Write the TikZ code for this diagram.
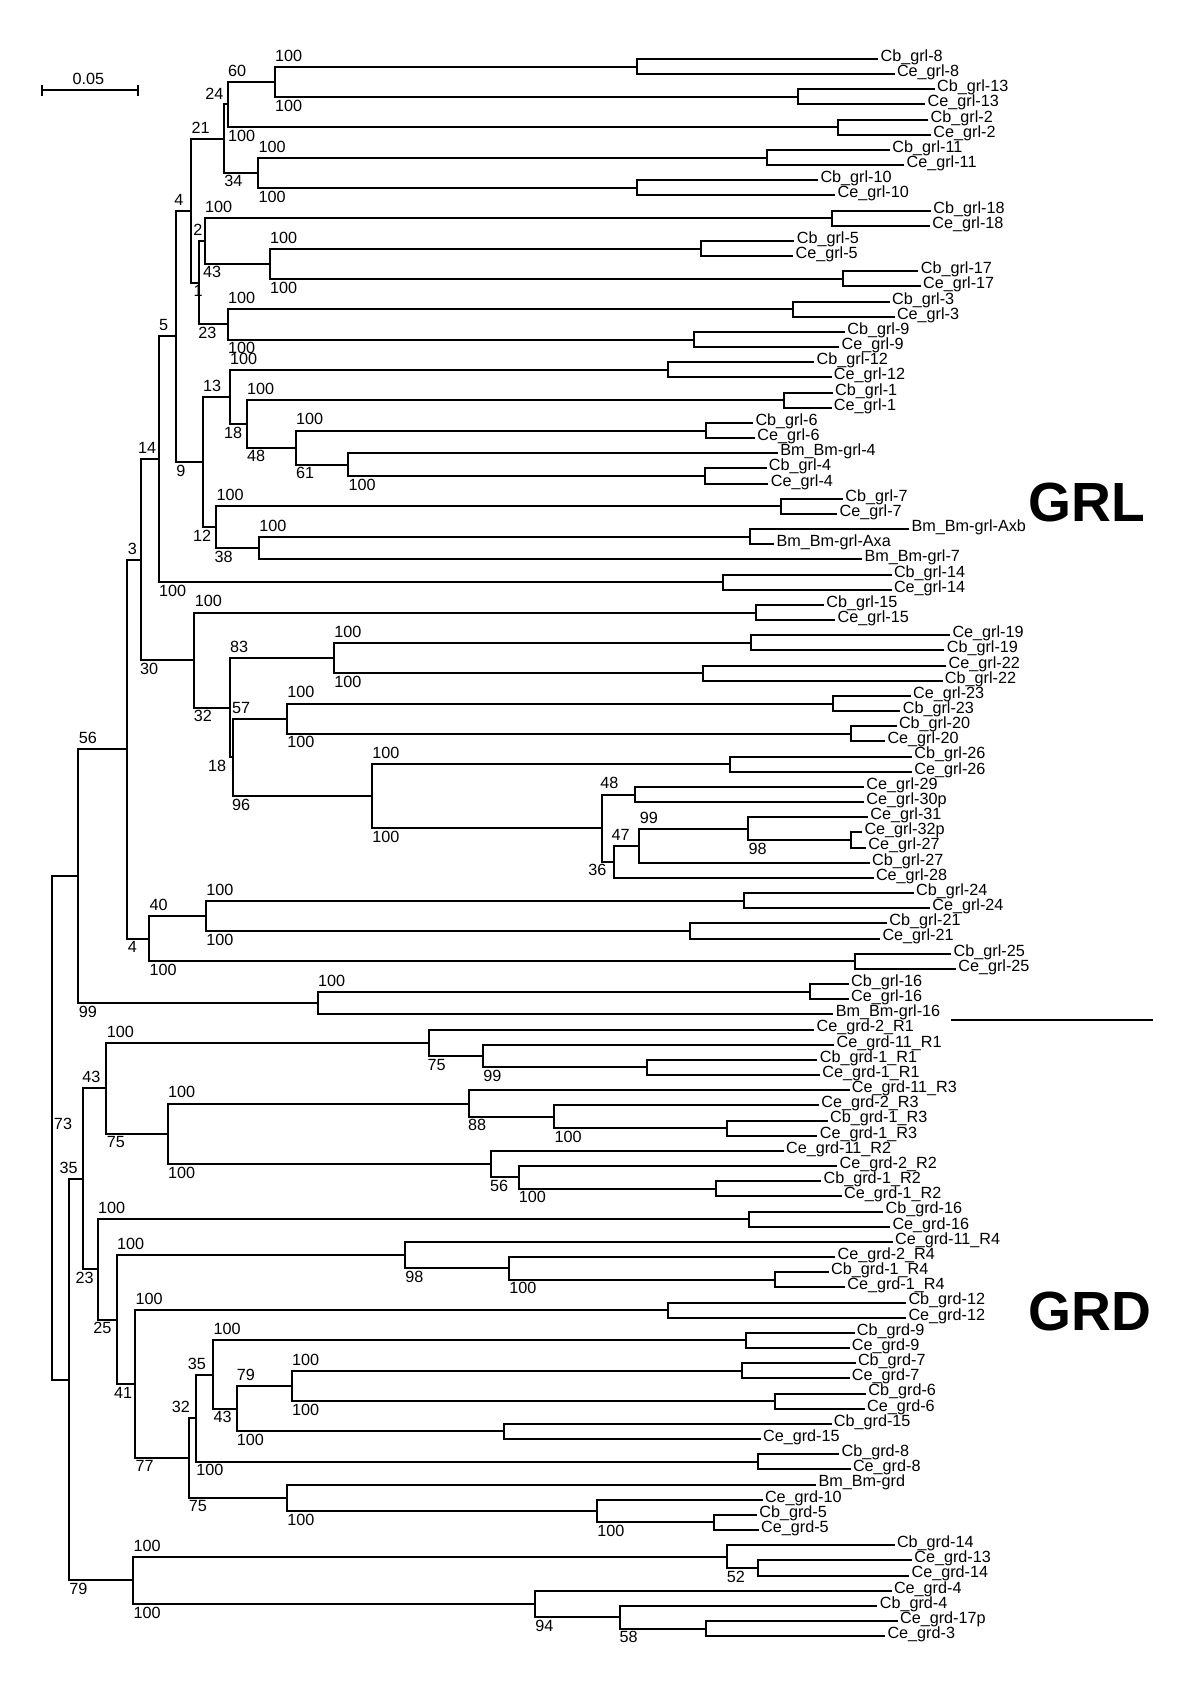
\documentclass[tikz,border=0pt]{standalone}
\usepackage{fontspec}
\setmainfont{Liberation Sans}
\usetikzlibrary{calc}
\tikzset{
  br/.style={line width=1pt},
  lbl/.style={font=\fontsize{8.1}{9.5}\selectfont},
  leaf/.style={lbl, anchor=base west, inner xsep=1pt, inner ysep=0pt, yshift=-1.2pt},
  bu/.style={lbl, anchor=south west, inner xsep=0pt, inner ysep=2.5pt},
  bd/.style={lbl, anchor=north west, inner xsep=0pt, inner ysep=1.2pt},
  clade/.style={font=\bfseries\fontsize{27.6}{30}\selectfont, anchor=base west, inner sep=0pt}
}
\begin{document}
\begin{tikzpicture}[x=0.5pt,y=-0.5pt]
\useasboundingbox (0,0) rectangle (1200,1681);
\foreach \i/\x/\txt in {1/878.2/Cb\_grl-8, 2/894.6/Ce\_grl-8, 3/934.8/Cb\_grl-13, 4/925.3/Ce\_grl-13,
  5/928.3/Cb\_grl-2, 6/931/Ce\_grl-2, 7/890/Cb\_grl-11, 8/904.2/Ce\_grl-11, 9/818.1/Cb\_grl-10,
  10/835.3/Ce\_grl-10, 11/931/Cb\_grl-18, 12/929.9/Ce\_grl-18, 13/794.4/Cb\_grl-5, 14/793.2/Ce\_grl-5,
  15/918.4/Cb\_grl-17, 16/920.7/Ce\_grl-17, 17/889.7/Cb\_grl-3, 18/894.6/Ce\_grl-3, 19/844.9/Cb\_grl-9,
  20/839.2/Ce\_grl-9, 21/814.3/Cb\_grl-12, 22/831.5/Ce\_grl-12, 23/832.7/Cb\_grl-1, 24/831.5/Ce\_grl-1,
  25/753.1/Cb\_grl-6, 26/755/Ce\_grl-6, 27/777.9/Bm\_Bm-grl-4, 28/766.5/Cb\_grl-4, 29/768.4/Ce\_grl-4,
  30/843/Cb\_grl-7, 31/837.2/Ce\_grl-7, 32/909.2/Bm\_Bm-grl-Axb, 33/774.1/Bm\_Bm-grl-Axa,
  34/862.1/Bm\_Bm-grl-7, 35/891.6/Cb\_grl-14, 36/891.6/Ce\_grl-14, 37/823.9/Cb\_grl-15,
  38/835.3/Ce\_grl-15, 39/950.1/Ce\_grl-19, 40/944.4/Cb\_grl-19, 41/946.3/Ce\_grl-22,
  42/942.5/Cb\_grl-22, 43/910.7/Ce\_grl-23, 44/900.4/Cb\_grl-23, 45/896.6/Cb\_grl-20,
  46/885.1/Ce\_grl-20, 47/911.9/Cb\_grl-26, 48/911.9/Ce\_grl-26, 49/864/Ce\_grl-29, 50/864/Ce\_grl-30p,
  51/867.9/Ce\_grl-31, 52/862.1/Ce\_grl-32p, 53/866/Ce\_grl-27, 54/869.8/Cb\_grl-27, 55/873.6/Ce\_grl-28,
  56/913.8/Cb\_grl-24, 57/929.9/Ce\_grl-24, 58/887/Cb\_grl-21, 59/880.1/Ce\_grl-21, 60/951.3/Cb\_grl-25,
  61/955.9/Ce\_grl-25, 62/848.7/Cb\_grl-16, 63/848.7/Ce\_grl-16, 64/833.4/Bm\_Bm-grl-16,
  65/814.3/Ce\_grd-2\_R1, 66/834.2/Ce\_grd-11\_R1, 67/817.4/Cb\_grd-1\_R1, 68/820/Ce\_grd-1\_R1,
  69/849.5/Ce\_grd-11\_R3, 70/818.9/Ce\_grd-2\_R3, 71/827.7/Cb\_grd-1\_R3, 72/817.4/Ce\_grd-1\_R3,
  73/783.7/Ce\_grd-11\_R2, 74/837.2/Ce\_grd-2\_R2, 75/821.2/Cb\_grd-1\_R2, 76/841.8/Ce\_grd-1\_R2,
  77/883.2/Cb\_grd-16, 78/890.1/Ce\_grd-16, 79/892.7/Ce\_grd-11\_R4, 80/835.3/Ce\_grd-2\_R4,
  81/828.8/Cb\_grd-1\_R4, 82/844.9/Ce\_grd-1\_R4, 83/906.1/Cb\_grd-12, 84/906.1/Ce\_grd-12,
  85/854.5/Cb\_grd-9, 86/849.5/Ce\_grd-9, 87/855.6/Cb\_grd-7, 88/849.5/Ce\_grd-7, 89/866/Cb\_grd-6,
  90/864.8/Ce\_grd-6, 91/831.5/Cb\_grd-15, 92/760.7/Ce\_grd-15, 93/839.2/Cb\_grd-8, 94/850.6/Ce\_grd-8,
  95/816.2/Bm\_Bm-grd, 96/762.6/Ce\_grd-10, 97/756.9/Cb\_grd-5, 98/758.8/Ce\_grd-5, 99/894.6/Cb\_grd-14,
  100/911.9/Ce\_grd-13, 101/909.2/Ce\_grd-14, 102/891.6/Ce\_grd-4, 103/877.4/Cb\_grd-4,
  104/897.7/Ce\_grd-17p, 105/885.1/Ce\_grd-3}{
  \coordinate (t\i) at (\x,{59+(\i-1)*15.165});
  \node[leaf] (l\i) at (t\i) {\txt};
}
\foreach \i/\x in {1/637.1, 3/798.2, 5/838, 7/767.2, 9/637.1, 11/831.5, 13/701.4, 15/843.4, 17/793.2,
  19/693.8, 21/667.7, 23/783.7, 25/706, 28/705.2, 30/781, 32/750.4, 35/722.5, 37/756.1, 39/751.1,
  41/703.3, 43/833.4, 45/850.6, 47/730.1, 49/635.2, 52/850.6, 56/744.3, 58/689.9, 60/855.2, 62/809.7,
  67/646.7, 71/727.4, 75/715.6, 77/748.5, 81/774.9, 83/668.1, 85/746.2, 87/741.6, 89/774.9, 91/504.3,
  93/758, 97/713.6, 100/758, 104/706}{
  \pgfmathtruncatemacro\jj{\i+1}
  \path ($(t\i)!.5!(t\jj)$) coordinate (m\i) (\x,0) coordinate (h\i);
  \coordinate (c\i) at (m\i -| h\i);
  \draw[br] (t\i) -| (c\i) |- (t\jj);
}
\foreach \n/\x/\ca/\cb in {Y/274.7/c1/c3, X/227.7/Y/c5, W/258.3/c7/c9, Z/223.9/X/W, S/269.8/c13/c15,
  R/204.7/c11/S, T/227.7/c17/c19, U/199/R/T, Q/191.3/Z/U, GG/348.2/t27/c28, FF/295.8/c25/GG,
  EE/246.8/c23/FF, CC/229.6/c21/EE, HH/259/c32/t34, DD/216.2/c30/HH, BB/202.8/CC/DD, AA/176/Q/BB,
  II/158.8/AA/c35, MM/334/c39/c41, NN/287/c43/c45, C/748.1/t51/c52, D/639.4/C/t54, E/614.2/D/t55,
  F/602/c49/E, G/372/c47/F, PP/232.7/NN/G, LL/229.6/MM/PP, KK/194.4/c37/LL, JJ/140.8/II/KK,
  TT/205.9/c56/c58, SS/149.2/TT/c60, RR/127.4/JJ/SS, VV/317.6/c62/t64, UU/78.4/RR/VV,
  AF/483/t66/c67, AD/429.3/t65/AF, AI/554.1/t70/c71, AG/468.8/t69/AI, AJ/518.5/t74/c75,
  AH/490.6/t73/AJ, AE/167.6/AG/AH, AB/106.4/AD/AE, AN/508.9/t80/c81, AL/404.9/t79/AN,
  AT/291.6/c87/c89, AS/236.5/AT/c91, AR/213.1/c85/AS, AP/195.9/AR/c93, AU/597/t96/c97,
  AQ/287/t95/AU, AO/189.4/AP/AQ, AM/135.1/c83/AO, AK/116.7/AL/AM, AC/97.6/c77/AK, YY/83/AB/AC,
  AV/727.4/t99/c100, AX/620.3/t103/c104, AW/535/t102/AX, ZZ/133.2/AV/AW, XX/68.9/YY/ZZ,
  WW/52.4/UU/XX}{
  \path ($(\ca)!.5!(\cb)$) coordinate (m\n) (\x,0) coordinate (h\n);
  \coordinate (\n) at (m\n -| h\n);
  \draw[br] (\ca) -| (\n) |- (\cb);
}
\foreach \pa/\ch/\lab/\dx in {Y/c1/100/0, X/Y/60/0, W/c7/100/0, Z/X/24/-19, S/c13/100/0, R/c11/100/0,
  T/c17/100/0, U/R/2/-6, Q/Z/21/0, FF/c25/100/0, EE/c23/100/0, CC/c21/100/0, HH/c32/100/0,
  DD/c30/100/0, BB/CC/13/0, AA/Q/4/-2, II/AA/5/0, MM/c39/100/0, NN/c43/100/0, D/C/99/0, E/D/47/-3,
  F/c49/48/-2, G/c47/100/0, PP/NN/57/-1, LL/MM/83/0, KK/c37/100/0, JJ/II/14/-3, TT/c56/100/0,
  SS/TT/40/0, RR/JJ/3/0, VV/c62/100/0, UU/RR/56/0, AE/AG/100/0, AB/AD/100/0, AK/AL/100/0,
  AT/c87/100/0, AS/AT/79/0, AR/c85/100/0, AP/AR/35/-8.4, AO/AP/32/-18, AM/c83/100/0, AC/c77/100/0,
  YY/AB/43/-1, ZZ/AV/100/0, XX/YY/35/-9.6}
  \node[bu, xshift=\dx*0.5pt] (u\ch) at (\pa |- \ch) {\lab};
\foreach \pa/\ch/\lab/\dx in {Y/c3/100/0, X/c5/100/0, W/c9/100/0, Z/W/34/0, S/c15/100/0, R/S/43/-2,
  T/c19/100/0, U/T/23/-1, Q/U/1/2, GG/c28/100/0, FF/GG/61/0, EE/FF/48/0, CC/EE/18/-6, DD/HH/38/-2,
  BB/DD/12/-10, AA/BB/9/0, II/c35/100/0, MM/c41/100/0, NN/c45/100/0, C/c52/98/0, F/E/36/-14,
  G/F/100/0, PP/G/96/-1, LL/PP/18/-22, KK/LL/32/-1, JJ/KK/30/-1, TT/c58/100/0, SS/c60/100/0,
  RR/SS/4/0, UU/VV/99/0, AF/c67/99/0, AD/AF/75/-2, AI/c71/100/0, AG/AI/88/-1, AJ/c75/100/0,
  AH/AJ/56/-1, AE/AH/100/0, AB/AE/75/0, AN/c81/100/0, AL/AN/98/0, AT/c89/100/0, AS/c91/100/0,
  AR/AS/43/0, AP/c93/100/0, AU/c97/100/0, AQ/AU/100/0, AO/AQ/75/-1, AM/AO/77/0, AK/AM/41/-3,
  AC/AK/25/-4.6, YY/AC/23/-7.7, AV/c100/52/-1, AX/c104/58/-1, AW/AX/94/0, ZZ/AW/100/0, XX/ZZ/79/0}
  \node[bd, xshift=\dx*0.5pt] (d\ch) at (\pa |- \ch) {\lab};
\node[lbl, anchor=west, inner sep=0pt] (lroot) at ([xshift=0.6pt,yshift=2pt]WW) {73};
\coordinate (s0) at (42,90);
\coordinate (s1) at (138,90);
\draw[br] (s0) -- (s1);
\draw[br] ([yshift=2.5pt]s0) -- ([yshift=-3pt]s0);
\draw[br] ([yshift=2.5pt]s1) -- ([yshift=-3pt]s1);
\node[bu, anchor=south, xshift=-0.8pt] (sl) at ($(s0)!.5!(s1)$) {0.05};
\coordinate (sep0) at (951.3,1020);
\coordinate (sep1) at (1153,1020);
\draw[br] (sep0) -- (sep1);
\node[clade] (grl) at (1028,521.7) {GRL};
\node[clade] (grd) at (1028,1330.7) {GRD};
\end{tikzpicture}
\end{document}
